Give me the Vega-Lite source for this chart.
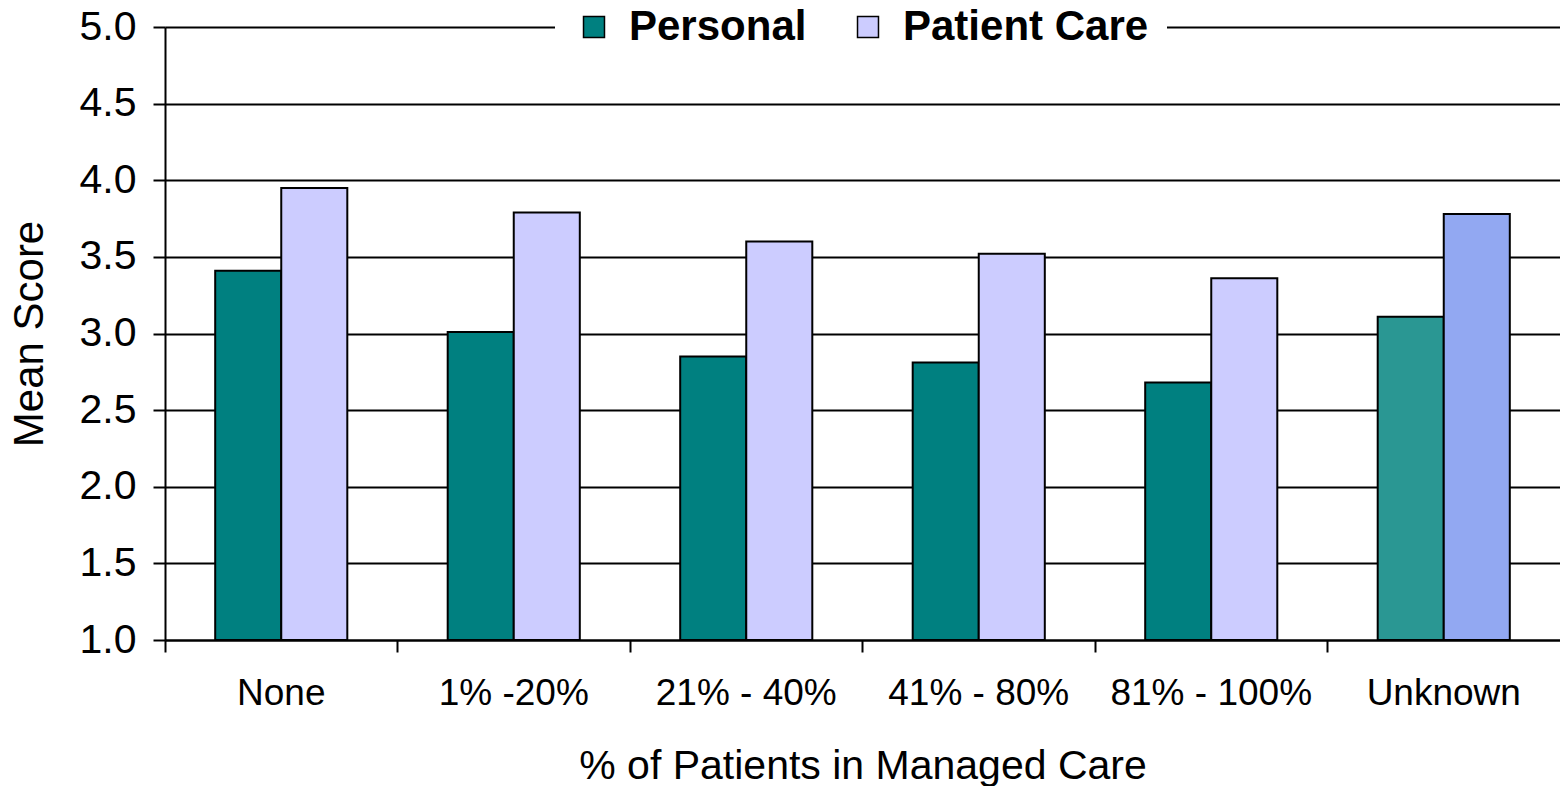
{
  "$schema": "https://vega.github.io/schema/vega-lite/v6.json",
  "autosize": {"type": "none"},
  "width": 1395,
  "height": 613,
  "padding": {"left": 165, "top": 27, "right": 0, "bottom": 146},
  "background": "white",
  "config": {
    "view": {"stroke": null},
    "font": "Liberation Sans"
  },
  "data": {
    "values": [
      {"category": "None", "series": "Personal", "fillKey": "Personal", "score": 3.41},
      {"category": "None", "series": "Patient Care", "fillKey": "Patient Care", "score": 3.95},
      {"category": "1% -20%", "series": "Personal", "fillKey": "Personal", "score": 3.01},
      {"category": "1% -20%", "series": "Patient Care", "fillKey": "Patient Care", "score": 3.79},
      {"category": "21% - 40%", "series": "Personal", "fillKey": "Personal", "score": 2.85},
      {"category": "21% - 40%", "series": "Patient Care", "fillKey": "Patient Care", "score": 3.60},
      {"category": "41% - 80%", "series": "Personal", "fillKey": "Personal", "score": 2.81},
      {"category": "41% - 80%", "series": "Patient Care", "fillKey": "Patient Care", "score": 3.52},
      {"category": "81% - 100%", "series": "Personal", "fillKey": "Personal", "score": 2.68},
      {"category": "81% - 100%", "series": "Patient Care", "fillKey": "Patient Care", "score": 3.36},
      {"category": "Unknown", "series": "Personal", "fillKey": "Personal (Unknown)", "score": 3.11},
      {"category": "Unknown", "series": "Patient Care", "fillKey": "Patient Care (Unknown)", "score": 3.78}
    ]
  },
  "mark": {"type": "bar", "stroke": "black", "strokeWidth": 2, "opacity": 1},
  "encoding": {
    "x": {
      "field": "category",
      "type": "nominal",
      "sort": null,
      "title": "% of Patients in Managed Care",
      "scale": {"paddingInner": 0, "paddingOuter": 0},
      "axis": {
        "labelAngle": 0,
        "labelFontSize": 37,
        "labelColor": "black",
        "labelPadding": 23,
        "labelLimit": 400,
        "titleFontSize": 41,
        "titleFontWeight": "normal",
        "titleColor": "black",
        "titlePadding": 35,
        "domainColor": "black",
        "domainWidth": 2,
        "tickColor": "black",
        "tickWidth": 2,
        "tickSize": 12,
        "bandPosition": 0,
        "grid": false
      }
    },
    "xOffset": {
      "field": "series",
      "type": "nominal",
      "sort": ["Personal", "Patient Care"],
      "scale": {"paddingInner": 0, "paddingOuter": 0.76}
    },
    "y": {
      "field": "score",
      "type": "quantitative",
      "title": "Mean Score",
      "scale": {"domain": [1, 5], "nice": false, "zero": false},
      "axis": {
        "values": [1, 1.5, 2, 2.5, 3, 3.5, 4, 4.5, 5],
        "format": ".1f",
        "labelFontSize": 41,
        "labelColor": "black",
        "labelPadding": 17,
        "titleFontSize": 42,
        "titleFontWeight": "normal",
        "titleColor": "black",
        "titlePadding": 28,
        "domainColor": "black",
        "domainWidth": 2,
        "tickColor": "black",
        "tickWidth": 2,
        "tickSize": 12,
        "grid": true,
        "gridColor": "black",
        "gridWidth": 2,
        "gridOpacity": 1
      }
    },
    "y2": {"datum": 1},
    "color": {
      "field": "fillKey",
      "type": "nominal",
      "scale": {
        "domain": ["Personal", "Patient Care", "Personal (Unknown)", "Patient Care (Unknown)"],
        "range": ["#008080", "#CCCCFF", "#2A9793", "#92A8F2"]
      },
      "legend": {
        "values": ["Personal", "Patient Care"],
        "title": null,
        "orient": "none",
        "direction": "horizontal",
        "legendX": 390,
        "legendY": -39,
        "padding": 18,
        "fillColor": "white",
        "symbolType": "square",
        "symbolSize": 440,
        "symbolStrokeColor": "black",
        "symbolStrokeWidth": 1.5,
        "symbolOpacity": 1,
        "labelFont": "Liberation Sans",
        "labelFontSize": 42,
        "labelFontWeight": "bold",
        "labelColor": "black",
        "labelOffset": 14,
        "columnPadding": 40,
        "labelLimit": 400
      }
    }
  }
}
